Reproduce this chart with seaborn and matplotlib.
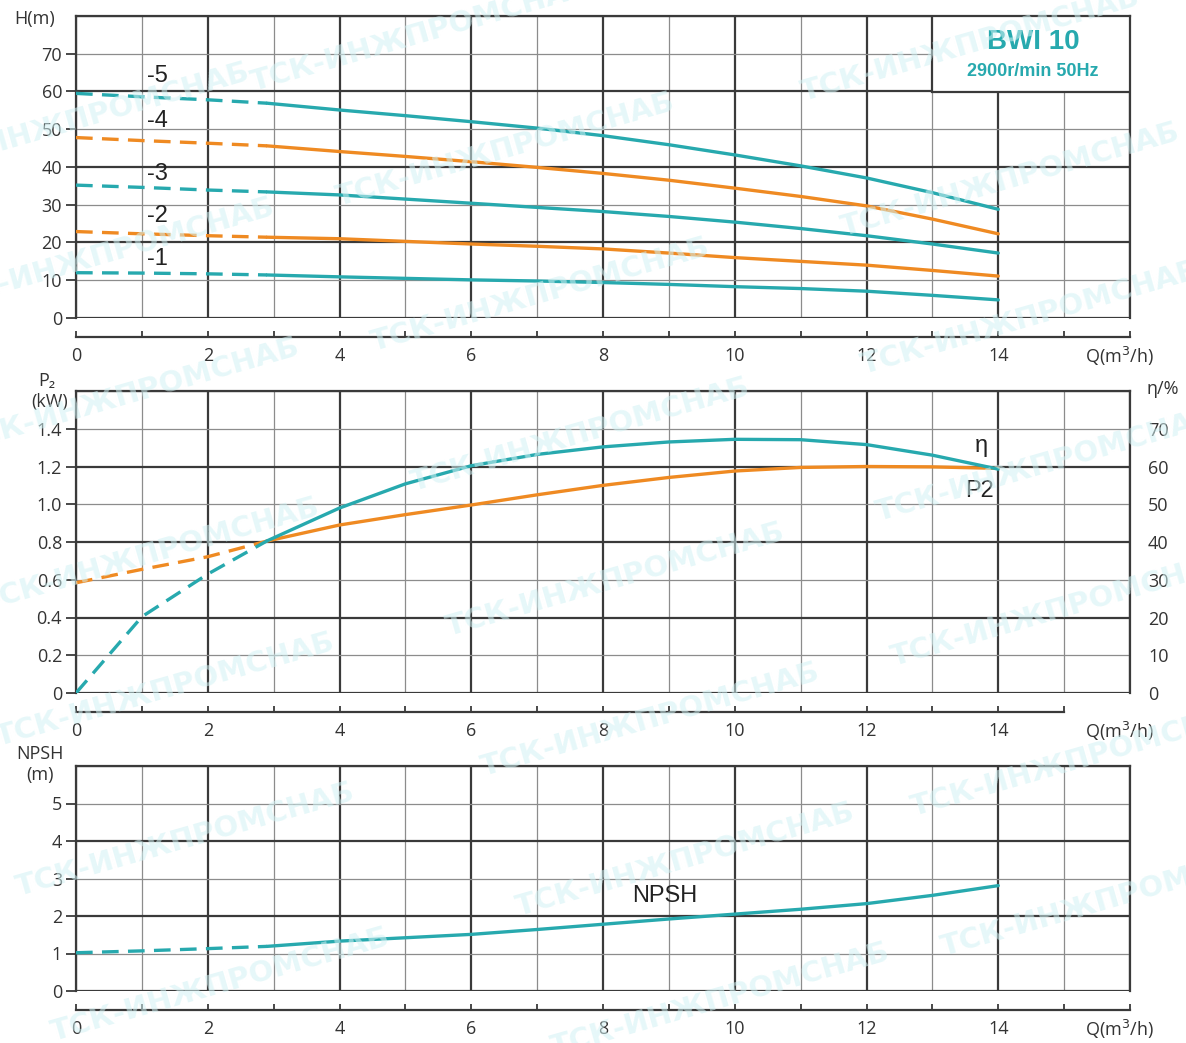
import matplotlib
matplotlib.use("Agg")
import matplotlib.pyplot as plt
from matplotlib.patches import Rectangle
import seaborn as sns
import pandas as pd

sns.set_theme(style="white")
plt.rcParams['font.family'] = ['Open Sans', 'DejaVu Sans']

TEAL = "#27a9ae"
ORANGE = "#ef8a22"
DARK = "#3a3a3a"
LIGHT = "#8c8c8c"
TXT = "#333333"

# ---- data -------------------------------------------------------------
q = [0, 1, 2, 2.9, 4, 5, 6, 7, 8, 9, 10, 11, 12, 13, 14]
head_5 = [59.5, 58.6, 57.8, 56.9, 55.1, 53.6, 52.0, 50.3, 48.3, 45.9, 43.2, 40.3, 37.1, 33.2, 28.8]
head_4 = [47.8, 47.0, 46.3, 45.6, 44.1, 42.8, 41.4, 39.9, 38.3, 36.5, 34.4, 32.2, 29.7, 26.2, 22.3]
head_3 = [35.2, 34.6, 33.9, 33.4, 32.6, 31.5, 30.4, 29.3, 28.2, 26.9, 25.4, 23.7, 21.8, 19.6, 17.2]
head_2 = [22.9, 22.3, 21.8, 21.4, 21.0, 20.3, 19.6, 19.0, 18.3, 17.2, 16.0, 15.0, 14.0, 12.6, 11.1]
head_1 = [12.0, 11.9, 11.7, 11.4, 10.9, 10.5, 10.1, 9.8, 9.4, 8.9, 8.3, 7.8, 7.1, 6.0, 4.8]
power_p2 = [0.584, 0.655, 0.722, 0.805, 0.89, 0.945, 0.996, 1.05, 1.10, 1.142, 1.176, 1.195, 1.20, 1.198, 1.19]
eff_eta = [0.0, 20.2, 31.5, 40.3, 49.0, 55.4, 60.2, 63.2, 65.2, 66.5, 67.2, 67.1, 65.8, 63.0, 59.3]
npsh = [1.02, 1.07, 1.13, 1.19, 1.33, 1.42, 1.51, 1.64, 1.78, 1.92, 2.05, 2.18, 2.33, 2.55, 2.81]

stage_labels = ["-5", "-4", "-3", "-2", "-1"]
stage_label_h = [64.1, 52.2, 38.1, 27.0, 15.6]
x_ticks = [0, 2, 4, 6, 8, 10, 12, 14]
h_ticks = [0, 10, 20, 30, 40, 50, 60, 70]
p_ticks = [0, 0.2, 0.4, 0.6, 0.8, 1.0, 1.2, 1.4]
p_tick_labels = ["0", "0.2", "0.4", "0.6", "0.8", "1.0", "1.2", "1.4"]
eta_ticks = [0, 10, 20, 30, 40, 50, 60, 70]
n_ticks = [0, 1, 2, 3, 4, 5]
SOLID_FROM = 2.9

W, H = 1186, 1043
fig = plt.figure(figsize=(W / 100, H / 100), dpi=100)


def rect(top, bottom, left=76, right=1130):
    return [left / W, 1 - bottom / H, (right - left) / W, (bottom - top) / H]


def ftext(px, py, s, **kw):
    kw.setdefault("color", TXT)
    kw.setdefault("ha", "center")
    kw.setdefault("va", "center")
    fig.text(px / W, 1 - py / H, s, **kw)


DASH = (0, (5, 2.8))


def curve(ax, y, color):
    df = pd.DataFrame({"q": q, "v": y})
    dashed = df[df.q <= SOLID_FROM]
    solid = df[df.q >= SOLID_FROM]
    sns.lineplot(data=dashed, x="q", y="v", ax=ax, color=color, lw=2.4,
                 linestyle=DASH, zorder=4, legend=False)
    sns.lineplot(data=solid, x="q", y="v", ax=ax, color=color, lw=2.4,
                 zorder=4, legend=False)
    ax.set_xlabel("")
    ax.set_ylabel("")


def panel(ax, ymax, ystep, xaxis_end=16):
    ax.set_xlim(0, 16)
    ax.set_ylim(0, ymax)
    # grid: thick lines every other step, thin lines between
    for i in range(0, 17):
        ax.axvline(i, color=DARK if i % 2 == 0 else LIGHT,
                   lw=1.6 if i % 2 == 0 else 0.9, zorder=1)
    n = int(round(ymax / ystep))
    for j in range(0, n + 1):
        ax.axhline(j * ystep, color=DARK if j % 2 == 0 else LIGHT,
                   lw=1.6 if j % 2 == 0 else 0.9, zorder=1)
    for s in ["left", "right", "top"]:
        ax.spines[s].set_color(DARK)
        ax.spines[s].set_linewidth(1.6)
    ax.spines["bottom"].set_position(("outward", 14))
    ax.spines["bottom"].set_bounds(0, xaxis_end)
    ax.spines["bottom"].set_color(DARK)
    ax.spines["bottom"].set_linewidth(1.6)
    ax.set_xticks(x_ticks)
    ax.set_xticks(range(0, xaxis_end + 1), minor=True)
    ax.tick_params(axis="x", which="both", direction="in", length=4,
                   width=1.3, color=DARK, labelsize=13, labelcolor=TXT, pad=7,
                   bottom=True)
    ax.tick_params(axis="y", which="both", direction="out", length=7,
                   width=1.3, color=DARK, labelsize=13, labelcolor=TXT, pad=3,
                   left=True)
    ax.annotate("Q(m$^3$/h)", xy=(15.84, 0), xycoords=("data", "axes fraction"),
                xytext=(0, -27.5), textcoords="offset points", ha="center",
                va="center", fontsize=13, color=TXT)


# ---- head curves ------------------------------------------------------
ax1 = fig.add_axes(rect(16, 318))
panel(ax1, 80, 10)
ax1.set_yticks(h_ticks)
for y, c in zip([head_5, head_4, head_3, head_2, head_1],
                [TEAL, ORANGE, TEAL, ORANGE, TEAL]):
    curve(ax1, y, c)
for lab, hh in zip(stage_labels, stage_label_h):
    ax1.text(1.23, hh, lab, fontsize=17, color="#222222", ha="center",
             va="center", family=["Liberation Sans"], zorder=5)
ax1.add_patch(Rectangle((13, 60), 3, 20, facecolor="white", edgecolor=DARK,
                        lw=1.6, zorder=6))
ax1.text(14.53, 73.1, "BWI 10", fontsize=20, fontweight="bold", color=TEAL,
         ha="center", va="center", family=["Liberation Sans"], zorder=12)
ax1.text(14.52, 65.2, "2900r/min 50Hz", fontsize=13, fontweight="bold",
         color=TEAL, ha="center", va="center", family=["Liberation Sans"],
         zorder=12)
ftext(35, 19, "H(m)", fontsize=13)

# ---- power / efficiency ----------------------------------------------
ax2 = fig.add_axes(rect(391, 693))
panel(ax2, 1.6, 0.2, xaxis_end=15)
ax2.set_yticks(p_ticks)
ax2.set_yticklabels(p_tick_labels)
curve(ax2, power_p2, ORANGE)
ax2r = ax2.twinx()
ax2r.set_ylim(0, 80)
ax2r.set_yticks(eta_ticks)
ax2r.tick_params(axis="y", length=0, labelsize=13, labelcolor=TXT, pad=13,
                 right=False)
for s in ax2r.spines.values():
    s.set_visible(False)
ax2r.grid(False)
curve(ax2r, eff_eta, TEAL)
ax2r.text(13.74, 1.309 * 50, "η", fontsize=17, color="#222222", ha="center",
          va="center", family=["Liberation Sans", "DejaVu Sans"], zorder=5)
ax2r.text(13.71, 1.07 * 50, "P2", fontsize=17, color="#222222", ha="center",
          va="center", family=["Liberation Sans"], zorder=5)
ftext(47, 381, "P₂", fontsize=13)
ftext(50, 402, "(kW)", fontsize=13)
ftext(1163, 389, "η/%", fontsize=13)

# ---- NPSH -------------------------------------------------------------
ax3 = fig.add_axes(rect(766, 991))
panel(ax3, 6, 1)
ax3.set_yticks(n_ticks)
curve(ax3, npsh, TEAL)
ax3.text(8.94, 2.52, "NPSH", fontsize=17, color="#222222", ha="center",
         va="center", family=["Liberation Sans"], zorder=5)
ftext(40, 754, "NPSH", fontsize=13)
ftext(40, 775, "(m)", fontsize=13)

# ---- watermark --------------------------------------------------------
marks = [(420, 35), (970, 45), (80, 120), (505, 150), (1010, 180), (105, 255),
         (540, 295), (1030, 318), (130, 395), (580, 435), (1045, 465),
         (150, 555), (615, 580), (1060, 610), (165, 690), (650, 720),
         (1080, 760), (185, 840), (685, 860), (1110, 900), (220, 985),
         (720, 1000)]
for mx, my in marks:
    ftext(mx, my, "ТСК-ИНЖПРОМСНАБ", fontsize=21, fontweight="bold",
          color="#d2f2f4", alpha=0.55, rotation=16, zorder=10,
          family=["DejaVu Sans"])

fig.savefig("out.png", dpi=100, facecolor="white")
